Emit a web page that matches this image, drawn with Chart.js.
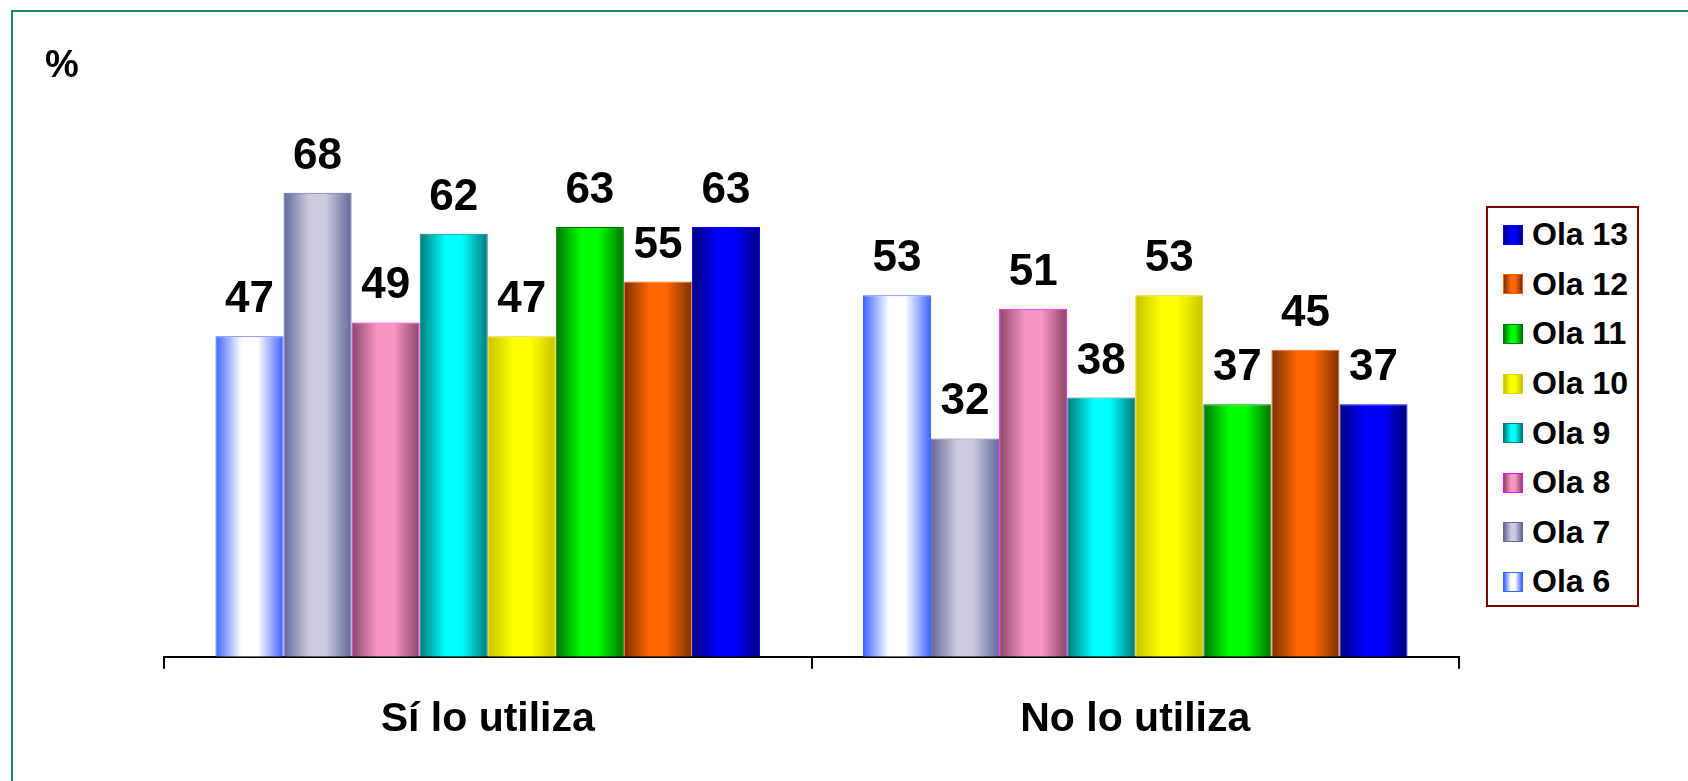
<!DOCTYPE html>
<html>
<head>
<meta charset="utf-8">
<script src="https://cdn.jsdelivr.net/npm/chart.js@4"></script>
<style>
    body { margin: 0; background: #fff; font-family: "Liberation Sans", Arial, sans-serif; }
    #wrap { position: relative; width: 1688px; height: 781px; overflow: hidden; }
    #frame { position: absolute; left: 11px; top: 10px; width: 1720px; height: 820px; border: 2px solid #17876a; }
    #pct { position: absolute; left: 45px; top: 43px; font-size: 38px; font-weight: bold; }
    #legend {
        position: absolute; left: 1486px; top: 206px; width: 153px; height: 401px;
        box-sizing: border-box; border: 2px solid #800000; padding-top: 2px; background: #fff;
    }
    .item { display: flex; align-items: center; height: 49.6px; }
    .swatch { width: 18px; height: 18px; margin-left: 15px; margin-right: 9px; border: 1px solid; }
    .item span { font-size: 32px; font-weight: bold; color: #000; }
</style>
</head>
<body>
<div id="wrap">
    <div id="frame"></div>
    <div id="pct">%</div>
    <canvas id="barChart" width="1688" height="781"></canvas>
    <div id="legend"></div>
</div>
<script>
// data
var categories = ['Sí lo utiliza', 'No lo utiliza'];
var waveNames = ['Ola 6', 'Ola 7', 'Ola 8', 'Ola 9', 'Ola 10', 'Ola 11', 'Ola 12', 'Ola 13'];
var ola6 = [47, 53];
var ola7 = [68, 32];
var ola8 = [49, 51];
var ola9 = [62, 38];
var ola10 = [47, 53];
var ola11 = [63, 37];
var ola12 = [55, 45];
var ola13 = [63, 37];
var waveValues = [ola6, ola7, ola8, ola9, ola10, ola11, ola12, ola13];

// colours: dark edge, light centre, outline
var edgeColors = ['#3d63ff', '#64679a', '#8a4868', '#007878', '#c9c200', '#007400', '#7a3000', '#00007c'];
var centerColors = ['#ffffff', '#cbcbdd', '#f994c7', '#00ffff', '#ffff00', '#00ff00', '#ff6600', '#0000ff'];
var borderColors = ['#3d63ff', '#64679a', '#ff00ff', '#008080', '#e0d000', '#008000', '#ff6600', '#0000ff'];

Chart.defaults.font.family = '"Liberation Sans", Arial, sans-serif';

// cylinder-like fill across each bar
function barFill(i) {
    return function (context) {
        var el = context.element;
        if (!el || el.x == null || !el.width) return centerColors[i];
        var c = context.chart.ctx;
        var g = c.createLinearGradient(el.x - el.width / 2, 0, el.x + el.width / 2, 0);
        g.addColorStop(0, edgeColors[i]);
        g.addColorStop(0.38, centerColors[i]);
        g.addColorStop(0.62, centerColors[i]);
        g.addColorStop(1, edgeColors[i]);
        return g;
    };
}

var datasets = waveNames.map(function (name, i) {
    return {
        label: name,
        data: waveValues[i],
        backgroundColor: barFill(i),
        borderColor: borderColors[i],
        borderWidth: 1,
        categoryPercentage: 0.841,
        barPercentage: 1
    };
});

// value labels above the bars
var valueLabels = {
    id: 'valueLabels',
    afterDatasetsDraw: function (chart) {
        var c = chart.ctx;
        c.save();
        c.font = 'bold 44px "Liberation Sans", Arial, sans-serif';
        c.fillStyle = '#000';
        c.textAlign = 'center';
        c.textBaseline = 'alphabetic';
        chart.data.datasets.forEach(function (ds, i) {
            chart.getDatasetMeta(i).data.forEach(function (bar, j) {
                c.fillText(ds.data[j], bar.x, bar.y - 24);
            });
        });
        c.restore();
    }
};

var chart = new Chart(document.getElementById('barChart'), {
    type: 'bar',
    data: { labels: categories, datasets: datasets },
    options: {
        responsive: false,
        animation: false,
        devicePixelRatio: 1,
        layout: { padding: { left: 164, right: 229, top: 111, bottom: 11 } },
        plugins: {
            legend: { display: false },
            title: { display: false },
            tooltip: { enabled: false }
        },
        scales: {
            x: {
                grid: { display: true, drawOnChartArea: false, drawTicks: true, tickLength: 12, color: '#000', lineWidth: 2 },
                border: { display: true, color: '#000', width: 2 },
                ticks: { color: '#000', padding: 26, font: { size: 41, weight: 'bold' } }
            },
            y: {
                display: false,
                min: 0,
                max: 80
            }
        }
    },
    plugins: [valueLabels]
});
chart.update();

// legend, newest wave on top
var legendBox = document.getElementById('legend');
for (var i = waveNames.length - 1; i >= 0; i--) {
    var item = document.createElement('div');
    item.className = 'item';
    item.innerHTML = '<div class="swatch" style="border-color:' + borderColors[i] +
        ';background:linear-gradient(to right,' + edgeColors[i] + ',' + centerColors[i] + ' 38%,' +
        centerColors[i] + ' 62%,' + edgeColors[i] + ')"></div><span>' + waveNames[i] + '</span>';
    legendBox.appendChild(item);
}
</script>
</body>
</html>
